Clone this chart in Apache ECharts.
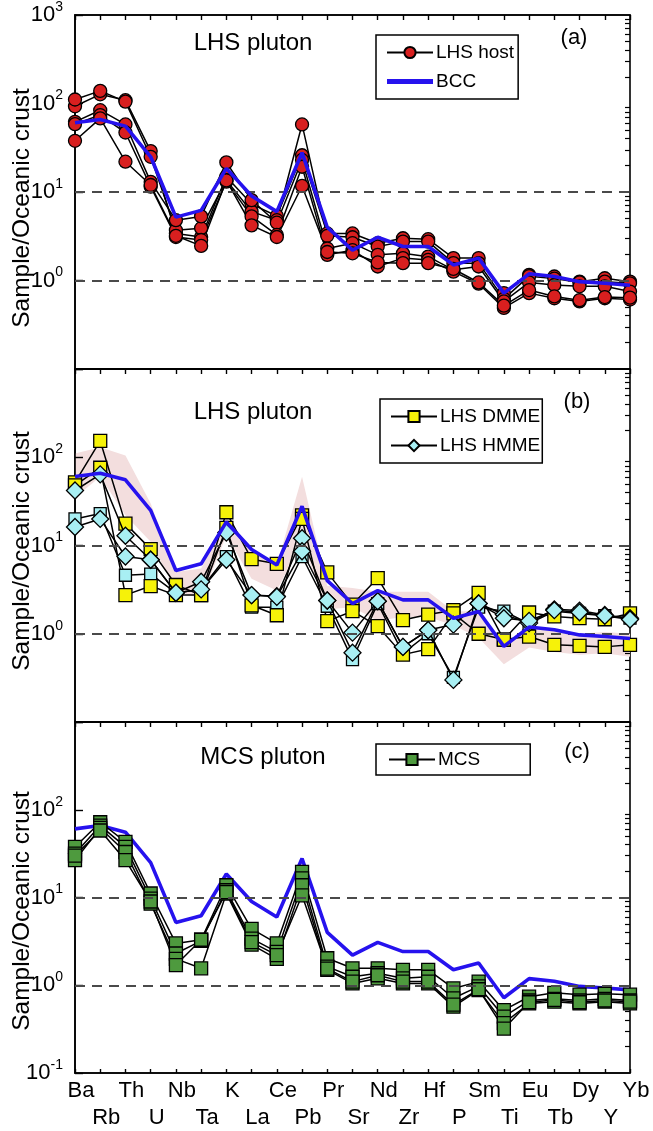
<!DOCTYPE html>
<html>
<head>
<meta charset="utf-8">
<script src="https://cdn.jsdelivr.net/npm/echarts@6/dist/echarts.min.js"></script>
<style>
  html, body { margin: 0; padding: 0; background: #fff; }
  #chart { width: 653px; height: 1131px; }
</style>
</head>
<body>
<div id="chart"></div>
<script>
// Element order along the x axis
const categories = ['Ba','Rb','Th','U','Nb','Ta','K','La','Ce','Pb','Pr','Sr','Nd','Zr','Hf','P','Sm','Ti','Eu','Tb','Dy','Y','Yb'];

// Bulk continental crust reference pattern (shown in every panel)
const bcc = [60.5, 66, 55.5, 25, 5.2, 6.2, 18.5, 9.0, 6.0, 27.8, 4.0, 2.2, 3.08, 2.42, 2.42, 1.5, 1.79, 0.72, 1.19, 1.11, 0.97, 0.93, 0.885];

// (a) LHS host samples
const host1 = [93, 127, 109, 29, 3.4, 3.1, 14.9, 7.3, 5.36, 26, 3.4, 3.4, 2.64, 3.0, 2.93, 1.79, 1.79, 0.72, 1.16, 1.11, 0.97, 1.06, 0.97];
const host2 = [111, 139, 105, 25, 3.7, 3.9, 13.6, 6.0, 4.8, 58, 3.2, 3.08, 2.42, 2.75, 2.75, 1.57, 1.57, 0.62, 1.12, 1.05, 0.95, 0.97, 0.93];
const host3 = [62, 84, 58, 13, 4.8, 5.3, 21.6, 8.1, 4.5, 23, 2.3, 2.64, 1.95, 2.03, 1.86, 1.32, 1.44, 0.58, 0.95, 0.89, 0.86, 0.86, 0.75];
const host4 = [58.5, 74, 47, 11.5, 3.1, 2.87, 13.1, 5.3, 3.27, 19.3, 1.95, 2.2, 1.44, 1.79, 1.71, 1.26, 0.92, 0.49, 0.72, 0.63, 0.58, 0.63, 0.61];
const host5 = [37.9, 68, 22, 12, 3.2, 2.46, 13.5, 4.2, 3.1, 11.7, 2.1, 2.03, 1.6, 1.57, 1.57, 1.35, 0.95, 0.52, 0.78, 0.66, 0.6, 0.65, 0.64];

// (b) LHS host range envelope
const bandHigh = [110, 130, 105, 30, 5, 5.5, 21, 9, 6, 60, 3.5, 3.3, 3, 3, 3, 1.8, 1.8, 0.75, 1.15, 1.1, 1.0, 1.05, 1.0];
const bandLow  = [35, 60, 22, 11, 3.1, 2.5, 13, 4.2, 3.1, 11, 1.9, 2.0, 1.4, 1.55, 1.55, 1.25, 0.9, 0.45, 0.7, 0.62, 0.58, 0.6, 0.55];

// (b) LHS DMME samples
const dmme1 = [52, 153, 17.7, 9.1, 3.57, 2.74, 23.8, 7.0, 6.2, 22, 4.96, 2.14, 4.28, 1.43, 1.65, 1.85, 2.9, 0.86, 1.74, 1.57, 1.5, 1.46, 1.7];
const dmme2 = [48, 76, 2.74, 3.47, 2.74, 2.74, 15.8, 2.1, 1.62, 20, 1.39, 1.8, 1.22, 0.58, 0.67, 1.7, 1.0, 0.86, 0.93, 0.75, 0.73, 0.71, 0.75];

// (b) LHS HMME samples
const hmme1 = [42, 64, 12.9, 6.9, 2.91, 3.88, 14, 2.74, 2.66, 12.1, 2.38, 1.03, 2.34, 0.71, 1.1, 0.3, 2.2, 1.65, 1.32, 1.89, 1.83, 1.63, 1.5];
const hmme2 = [16.2, 20, 7.5, 6.9, 2.91, 3.18, 6.9, 2.74, 2.62, 8.6, 2.38, 0.61, 2.34, 0.71, 1.1, 1.27, 2.2, 1.5, 1.4, 1.85, 1.75, 1.6, 1.45];
const hmme3 = [20, 23, 4.6, 4.75, 2.9, 3.2, 7.5, 2.0, 2.0, 7.5, 2.05, 0.51, 2.2, 0.6, 1.0, 0.32, 2.0, 1.8, 1.3, 1.8, 1.7, 1.6, 1.5];

// (c) MCS samples
const mcs1 = [37.7, 72, 43, 11.1, 3.0, 3.3, 13.8, 4.4, 3.0, 19.6, 2.03, 1.56, 1.56, 1.5, 1.5, 0.92, 1.1, 0.52, 0.74, 0.82, 0.78, 0.8, 0.78];
const mcs2 = [31.6, 66, 37.7, 9.7, 2.3, 3.2, 12.1, 3.4, 2.4, 16.5, 1.63, 1.25, 1.37, 1.2, 1.25, 0.71, 0.97, 0.44, 0.67, 0.7, 0.67, 0.7, 0.67];
const mcs3 = [26.6, 62, 33, 8.5, 2.0, 1.56, 11.1, 2.9, 2.0, 13.8, 1.5, 1.05, 1.2, 1.05, 1.05, 0.57, 0.88, 0.37, 0.62, 0.65, 0.62, 0.65, 0.62];
const mcs4 = [30, 58, 26.6, 9.0, 1.7, 3.3, 11.5, 3.1, 2.2, 10.6, 1.55, 1.1, 1.3, 1.1, 1.1, 0.6, 0.9, 0.32, 0.64, 0.68, 0.64, 0.67, 0.65];

// Tick values for the log axes
const majorLabelsA = [1, 10, 100, 1000];
const majorLabelsB = [1, 10, 100];
const majorLabelsC = [0.1, 1, 10, 100];
const majorTicks = [0.1, 1, 10, 100, 1000];
const minorTicks = [];
[0.1, 1, 10, 100].forEach(d => { for (let m = 2; m <= 9; m++) minorTicks.push(+(m * d).toPrecision(3)); });

const FONT = '"Liberation Sans", Arial, Helvetica, sans-serif';
const BLUE = '#2612ee';
const RED = '#d81f1f';
const YELLOW = '#f6f209';
const CYAN = '#a8eff3';
const GREEN = '#4e9a3e';

const panels = [
  { top: 15,  height: 354, labels: majorLabelsA },
  { top: 369, height: 353, labels: majorLabelsB },
  { top: 722, height: 351, labels: majorLabelsC }
];

const grids = panels.map(p => ({
  left: 75, right: 23, top: p.top, height: p.height,
  show: true, borderColor: '#000', borderWidth: 1.6, backgroundColor: 'transparent'
}));

const xAxes = [];
const yAxes = [];
panels.forEach((p, i) => {
  const last = i === panels.length - 1;
  xAxes.push({
    type: 'category', gridIndex: i, data: categories, boundaryGap: false, position: 'bottom',
    axisLine: { show: true, lineStyle: { color: '#000', width: 1.6 } },
    axisTick: { show: last, inside: true, length: 4, alignWithLabel: true, interval: 0, lineStyle: { color: '#000', width: 1.4 } },
    axisLabel: {
      show: last, interval: 0, margin: 4, color: '#000', fontFamily: FONT, fontSize: 22,
      lineHeight: 27, padding: [0, 0, 0, 12],
      formatter: (v, idx) => (idx % 2 === 0 ? v : '\n' + v)
    },
    splitLine: { show: false }
  });
  xAxes.push({
    type: 'category', gridIndex: i, data: categories, boundaryGap: false, position: 'top',
    axisLine: { show: true, lineStyle: { color: '#000', width: 1.6 } },
    axisTick: { show: true, inside: true, length: 5, interval: 0, lineStyle: { color: '#000', width: 1.4 } },
    axisLabel: { show: false },
    splitLine: { show: false }
  });
  yAxes.push({
    type: 'log', gridIndex: i, min: 0.1, max: 1000, logBase: 10,
    axisLine: { show: true, lineStyle: { color: '#000', width: 1.6 } },
    axisTick: { show: true, inside: true, length: 8, customValues: majorTicks, lineStyle: { color: '#000', width: 1.4 } },
    axisLabel: {
      show: true, margin: 12, customValues: p.labels, color: '#000', fontFamily: FONT,
      formatter: v => '{b|10}{s|' + Math.round(Math.log10(v)) + '}',
      rich: {
        b: { fontSize: 22, lineHeight: 30, fontFamily: FONT, color: '#000' },
        s: { fontSize: 14, lineHeight: 14, verticalAlign: 'top', fontFamily: FONT, color: '#000' }
      }
    },
    splitLine: { show: false }
  });
  yAxes.push({
    type: 'log', gridIndex: i, min: 0.1, max: 1000, logBase: 10,
    axisLine: { show: false },
    axisTick: { show: true, inside: true, length: 5, customValues: minorTicks, lineStyle: { color: '#000', width: 1.2 } },
    axisLabel: { show: false },
    splitLine: { show: false }
  });
});

function sampleSeries(name, data, panel, symbol, color, size, z) {
  return {
    type: 'line', name, data, xAxisIndex: 2 * panel, yAxisIndex: 2 * panel,
    symbol, symbolSize: size, showSymbol: true, showAllSymbol: true, z,
    lineStyle: { color: '#000', width: 1.5 },
    itemStyle: { color, borderColor: '#000', borderWidth: 1.3 },
    emphasis: { disabled: true }, silent: true, animation: false
  };
}

function bccSeries(panel, z) {
  return {
    type: 'line', name: 'BCC', data: bcc, xAxisIndex: 2 * panel, yAxisIndex: 2 * panel,
    symbol: 'none', z, lineStyle: { color: BLUE, width: 3.6 },
    itemStyle: { color: BLUE },
    emphasis: { disabled: true }, silent: true, animation: false
  };
}

function refLines(panel) {
  return {
    type: 'line', name: 'ref' + panel, data: [], xAxisIndex: 2 * panel, yAxisIndex: 2 * panel,
    z: 1, silent: true, animation: false,
    markLine: {
      silent: true, symbol: 'none', animation: false, label: { show: false },
      lineStyle: { color: '#4a4a4a', width: 1.8, type: [10, 7] },
      data: [{ yAxis: 1 }, { yAxis: 10 }]
    }
  };
}

const series = [];
// Panel (a)
series.push(refLines(0));
[host1, host2, host3, host4, host5].forEach(d => series.push(sampleSeries('LHS host', d, 0, 'circle', RED, 13, 3)));
series.push(bccSeries(0, 5));

// Panel (b)
series.push({
  type: 'custom', name: 'range', xAxisIndex: 2, yAxisIndex: 2, z: 0, silent: true, animation: false,
  data: [[0, 1]],
  renderItem: (params, api) => {
    const pts = [];
    bandHigh.forEach((v, i) => pts.push(api.coord([i, v])));
    for (let i = bandLow.length - 1; i >= 0; i--) pts.push(api.coord([i, bandLow[i]]));
    return { type: 'polygon', shape: { points: pts }, style: { fill: '#f3dede' } };
  }
});
series.push(refLines(1));
series.push(sampleSeries('LHS HMME', hmme1, 1, 'diamond', CYAN, 17, 4));
series.push(sampleSeries('LHS HMME', hmme2, 1, 'diamond', CYAN, 17, 4));
series.push(sampleSeries('LHS HMME', hmme3, 1, 'rect', CYAN, 12, 3));
series.push(sampleSeries('LHS DMME', dmme1, 1, 'rect', YELLOW, 13, 3));
series.push(sampleSeries('LHS DMME', dmme2, 1, 'rect', YELLOW, 13, 3));
series.push(bccSeries(1, 5));

// Panel (c)
series.push(refLines(2));
series.push(bccSeries(2, 2));
[mcs1, mcs2, mcs3, mcs4].forEach(d => series.push(sampleSeries('MCS', d, 2, 'rect', GREEN, 13, 3)));

const legendBase = {
  orient: 'vertical', itemWidth: 46, itemHeight: 14, itemGap: 10,
  borderColor: '#000', borderWidth: 1.5, borderRadius: 0, padding: [8, 2, 8, 10],
  backgroundColor: '#fff', selectedMode: false,
  textStyle: { fontFamily: FONT, fontSize: 19, color: '#000', padding: [0, 0, 0, -2] }
};

const legends = [
  Object.assign({}, legendBase, {
    left: 376, top: 35, padding: [8, 4, 8, 10],
    data: ['LHS host', { name: 'BCC', icon: 'path://M0,0h46v5h-46z' }]
  }),
  Object.assign({}, legendBase, { left: 380, top: 399, data: ['LHS DMME', 'LHS HMME'] }),
  Object.assign({}, legendBase, { left: 376, top: 744, padding: [6, 50, 6, 12], data: ['MCS'] })
];

function txt(x, y, text, size, opts) {
  return Object.assign({
    type: 'text', x, y, silent: true,
    style: { text, fontFamily: FONT, fontSize: size, fill: '#000', align: 'center', verticalAlign: 'middle' }
  }, opts || {});
}

const graphics = [
  txt(253, 43, 'LHS pluton', 24),
  txt(574, 38, '(a)', 22),
  txt(253, 412, 'LHS pluton', 24),
  txt(577, 402, '(b)', 22),
  txt(263, 757, 'MCS pluton', 24),
  txt(577, 752, '(c)', 22),
  txt(22, 208, 'Sample/Oceanic crust', 24.5, { rotation: Math.PI / 2 }),
  txt(22, 551, 'Sample/Oceanic crust', 24.5, { rotation: Math.PI / 2 }),
  txt(22, 911, 'Sample/Oceanic crust', 24.5, { rotation: Math.PI / 2 })
];

const chart = echarts.init(document.getElementById('chart'), null, { renderer: 'canvas' });
chart.setOption({
  animation: false,
  backgroundColor: '#fff',
  grid: grids,
  xAxis: xAxes,
  yAxis: yAxes,
  legend: legends,
  graphic: graphics,
  series
});
</script>
</body>
</html>
